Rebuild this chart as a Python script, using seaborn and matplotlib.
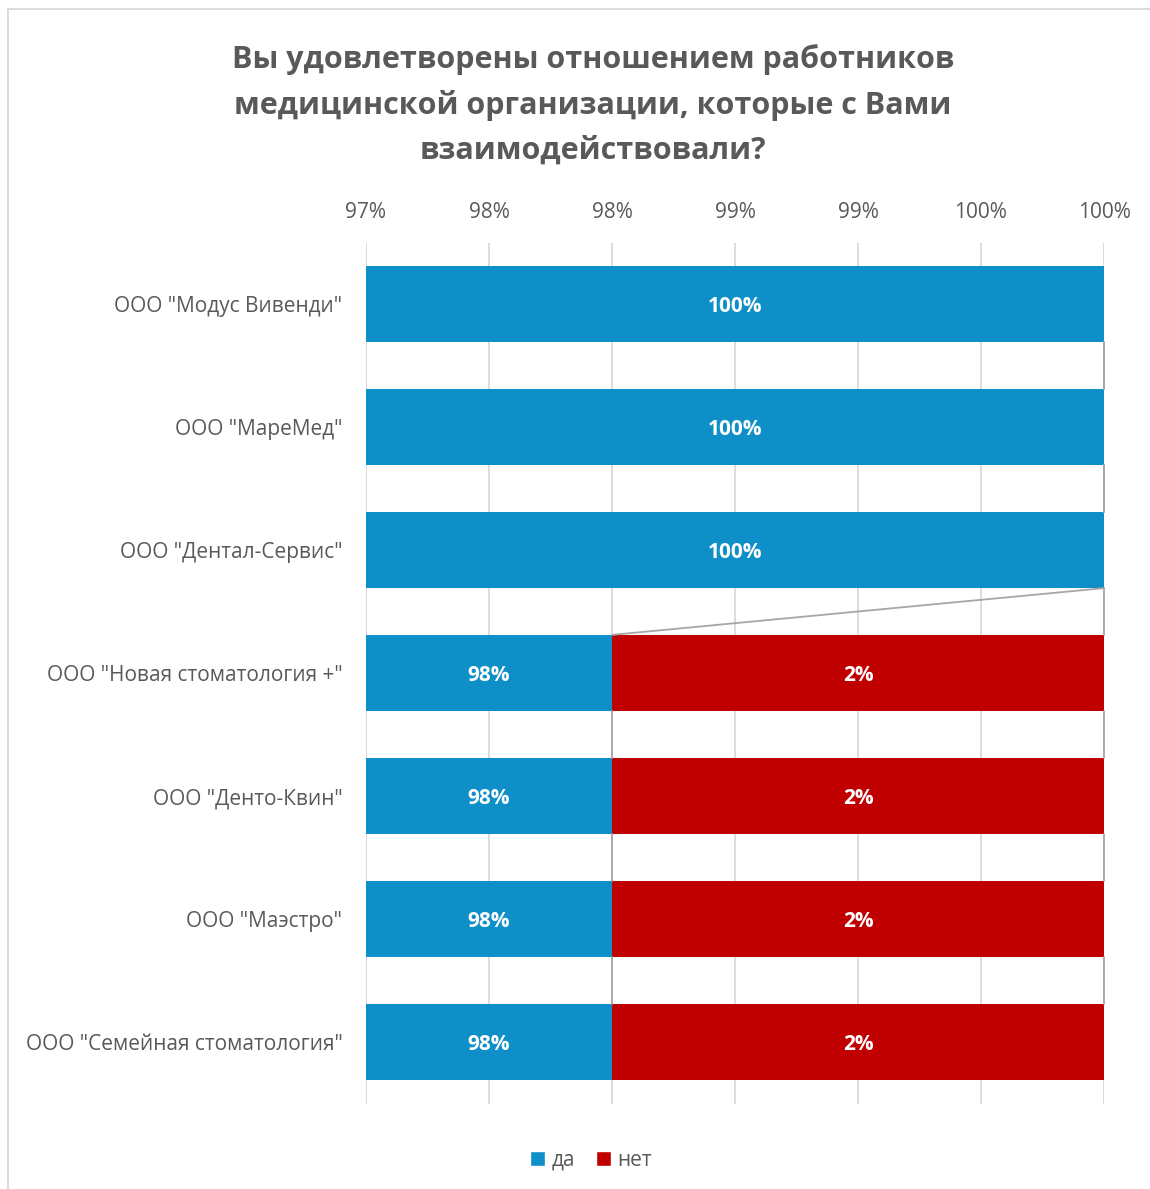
import matplotlib
matplotlib.use("Agg")
import matplotlib.pyplot as plt
import seaborn as sns
import pandas as pd
from matplotlib.patches import Rectangle, Patch

categories = ['ООО "Модус Вивенди"', 'ООО "МареМед"', 'ООО "Дентал-Сервис"',
              'ООО "Новая стоматология +"', 'ООО "Денто-Квин"', 'ООО "Маэстро"',
              'ООО "Семейная стоматология"']
yes_vals = [1.00, 1.00, 1.00, 0.98, 0.98, 0.98, 0.98]
no_vals = [0.00, 0.00, 0.00, 0.02, 0.02, 0.02, 0.02]
tick_vals = [0.97, 0.975, 0.98, 0.985, 0.99, 0.995, 1.00]
tick_labels = ["97%", "98%", "98%", "99%", "99%", "100%", "100%"]
series_names = ["да", "нет"]
title = "Вы удовлетворены отношением работников\nмедицинской организации, которые с Вами\nвзаимодействовали?"

BLUE = "#0E8FC8"
RED = "#C00000"
TXT = "#595959"

sns.set_theme(style="white")
plt.rcParams['font.family'] = ['Open Sans', 'DejaVu Sans']

df = pd.DataFrame({"cat": categories, "yes": yes_vals, "no": no_vals})
df["total"] = df["yes"] + df["no"]

fig = plt.figure(figsize=(11.5, 11.89), dpi=100)
ax = fig.add_axes([366/1150, 1 - 1103.5/1189, (1104 - 366)/1150, (1103.5 - 242.5)/1189])

xmin, xmax = tick_vals[0], tick_vals[-1]
bar_h = 0.62
sns.barplot(data=df, y="cat", x="total", color=RED, orient="h", ax=ax,
            width=bar_h, saturation=1, linewidth=0, zorder=2)
sns.barplot(data=df, y="cat", x="yes", color=BLUE, orient="h", ax=ax,
            width=bar_h, saturation=1, linewidth=0, zorder=3)

ax.set_xlim(xmin, xmax)
ax.set_ylim(len(categories) - 0.5, -0.5)

# series lines
for i in range(len(categories) - 1):
    for cum in (df["yes"], df["total"]):
        ax.plot([cum[i], cum[i + 1]], [i + bar_h / 2, i + 1 - bar_h / 2],
                color="#A6A6A6", lw=1.3, zorder=4, clip_on=False)

# data labels
for i, (y, n) in enumerate(zip(yes_vals, no_vals)):
    if y > 0:
        ax.text((max(xmin, 0) + min(y, xmax)) / 2, i, f"{y:.0%}", ha="center",
                va="center_baseline", color="white", fontsize=15, fontweight="bold", zorder=5)
    if n > 0:
        ax.text((y + min(y + n, xmax)) / 2, i, f"{n:.0%}", ha="center",
                va="center_baseline", color="white", fontsize=15, fontweight="bold", zorder=5)

ax.xaxis.tick_top()
ax.set_xticks(tick_vals)
ax.set_xticklabels(tick_labels)
ax.tick_params(axis="x", length=0, pad=14, labelsize=15, labelcolor=TXT)
ax.tick_params(axis="y", length=0, pad=17, labelsize=15, labelcolor=TXT)
ax.set_xlabel("")
ax.set_ylabel("")
ax.grid(axis="x", color="#D9D9D9", lw=1.3, zorder=0)
ax.grid(axis="y", visible=False)
ax.set_axisbelow(True)
for s in ax.spines.values():
    s.set_visible(False)

fig.text(593/1150, 1 - 105/1189, title, ha="center", va="center", fontsize=22,
         fontweight="bold", color=TXT, linespacing=1.63)

handles = [Patch(facecolor=BLUE, label=series_names[0]),
           Patch(facecolor=RED, label=series_names[1])]
fig.legend(handles=handles, loc="center", bbox_to_anchor=(591/1150, 1 - 1160/1189),
           ncol=2, frameon=False, fontsize=15, labelcolor=TXT,
           handlelength=0.75, handleheight=0.75, handletextpad=0.3, columnspacing=1.0)

fig.patches.append(Rectangle((8/1150, -0.05), 1.2, 1.05 - 9/1189, transform=fig.transFigure,
                             fill=False, edgecolor="#D9D9D9", lw=1.3))

fig.savefig("out.png", dpi=100, facecolor="white")
